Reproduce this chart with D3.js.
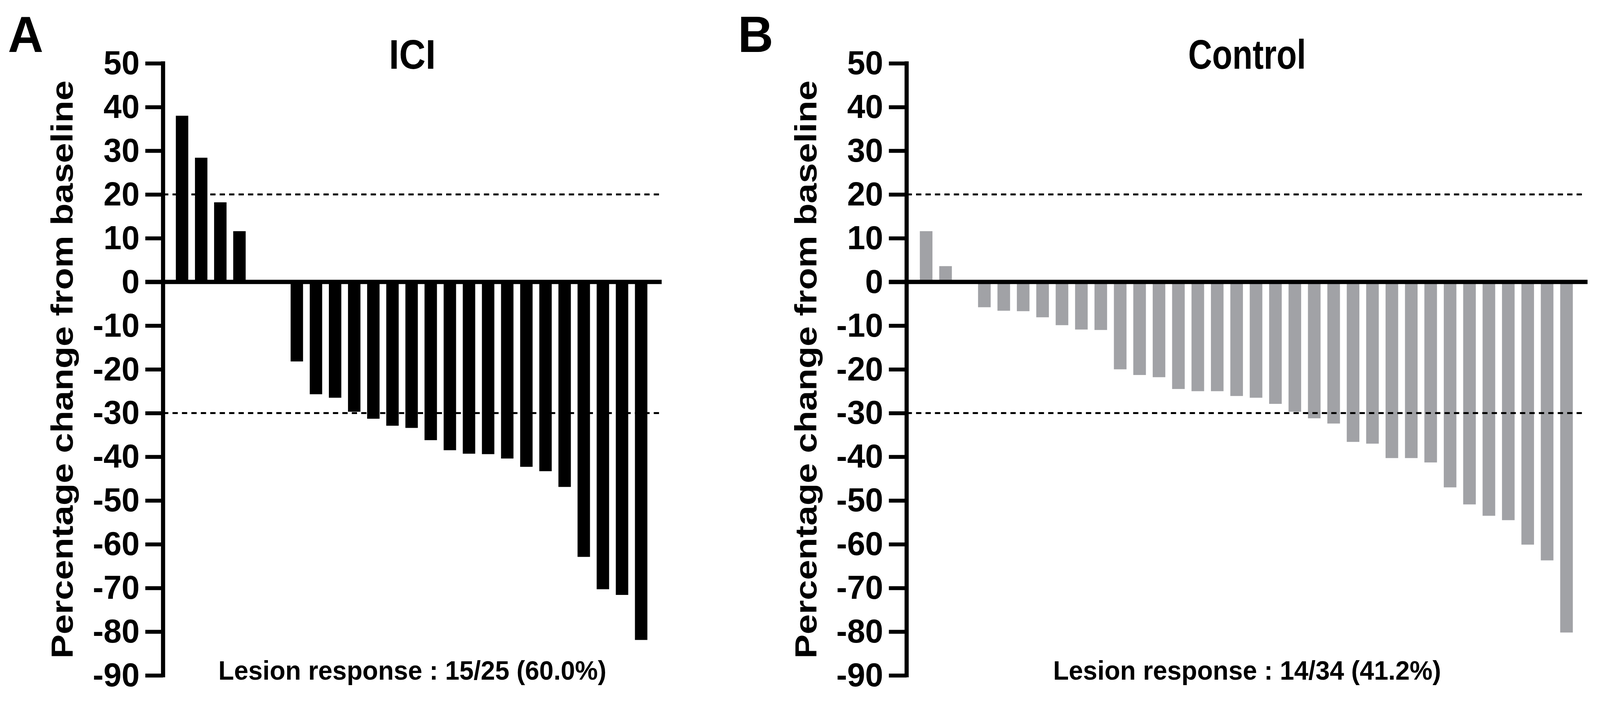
<!DOCTYPE html>
<html>
<head>
<meta charset="utf-8">
<script src="https://cdn.jsdelivr.net/npm/d3@7"></script>
<style>
  html, body { margin: 0; padding: 0; background: #fff; overflow: hidden; }
  svg { display: block; width: 100vw; height: 100vh; }
  text { font-family: "Liberation Sans", Arial, Helvetica, sans-serif; font-weight: bold; fill: #000; }
</style>
</head>
<body>
<svg id="chart" viewBox="0 0 4239 1810" preserveAspectRatio="none"></svg>
<script>
// ---- data ----
const yTicks = [50, 40, 30, 20, 10, 0, -10, -20, -30, -40, -50, -60, -70, -80, -90];
const thresholds = [20, -30];
const iciValues = [38.0, 28.4, 18.2, 11.6, 0, 0, -18.2, -25.7, -26.5, -29.7, -31.3, -32.9, -33.4, -36.2,
  -38.5, -39.3, -39.4, -40.4, -42.3, -43.3, -46.9, -62.9, -70.3, -71.6, -81.9];
const controlValues = [11.6, 3.6, 0, -5.8, -6.6, -6.7, -8.1, -9.9, -10.9, -11.0, -20.0, -21.3, -21.8,
  -24.5, -25.0, -25.0, -26.1, -26.5, -27.9, -29.7, -31.2, -32.4, -36.6, -37.0, -40.3, -40.3, -41.3,
  -47.0, -50.9, -53.5, -54.5, -60.1, -63.7, -80.2];
const panelLetters = ["A", "B"];
const panelTitles = ["ICI", "Control"];
const responseTexts = ["Lesion response : 15/25 (60.0%)", "Lesion response : 14/34 (41.2%)"];
const yAxisTitle = "Percentage change from baseline";

// ---- layout ----
const panels = [
  { values: iciValues, color: "#000000", axisX: 432, endX: 1753, x0: 457, x1: 1724, titleLen: 124, letterX: 21 },
  { values: controlValues, color: "#a1a2a6", axisX: 2402, endX: 4206, x0: 2428, x1: 4176, titleLen: 312, letterX: 1955 }
];

const svg = d3.select("#chart");
svg.append("rect").attr("width", 4239).attr("height", 1810).attr("fill", "#fff");

const y = d3.scaleLinear().domain([50, -90]).range([162, 1729]);

panels.forEach((p, pi) => {
  const g = svg.append("g");
  const x = d3.scaleBand()
    .domain(d3.range(p.values.length))
    .range([p.x0, p.x1])
    .paddingInner(0.35)
    .paddingOuter(0.175);

  // bars
  g.append("g").selectAll("rect")
    .data(p.values)
    .join("rect")
    .attr("x", (d, i) => x(i))
    .attr("width", x.bandwidth())
    .attr("y", d => y(Math.max(0, d)))
    .attr("height", d => Math.abs(y(d) - y(0)))
    .attr("fill", p.color);

  // threshold dashed lines
  g.append("g").selectAll("line")
    .data(thresholds)
    .join("line")
    .attr("x1", p.axisX)
    .attr("x2", p.endX - 4)
    .attr("y1", d => y(d))
    .attr("y2", d => y(d))
    .attr("stroke", "#000")
    .attr("stroke-width", 5)
    .attr("stroke-dasharray", "14,11");

  // zero baseline
  g.append("line")
    .attr("x1", p.axisX - 47)
    .attr("x2", p.endX)
    .attr("y1", y(0))
    .attr("y2", y(0))
    .attr("stroke", "#000")
    .attr("stroke-width", 11);

  // y axis
  const axis = d3.axisLeft(y)
    .tickValues(yTicks)
    .tickSize(47)
    .tickSizeOuter(0)
    .tickPadding(15)
    .tickFormat(d => String(d));
  const ag = g.append("g")
    .attr("transform", `translate(${p.axisX},0)`)
    .call(axis);
  ag.select(".domain").remove();
  ag.selectAll(".tick line").attr("stroke", "#000").attr("stroke-width", 10);
  ag.selectAll(".tick text")
    .style("font-family", '"Liberation Sans", Arial, sans-serif')
    .style("font-weight", "bold")
    .style("font-size", "86px")
    .attr("fill", "#000");
  ag.append("line")
    .attr("x1", 0).attr("x2", 0)
    .attr("y1", y(50) - 5).attr("y2", y(-90) + 5)
    .attr("stroke", "#000").attr("stroke-width", 11);

  // y axis title
  g.append("text")
    .attr("transform", `translate(${p.axisX - 239},${946}) rotate(-90)`)
    .attr("text-anchor", "middle")
    .attr("font-size", 80)
    .attr("textLength", 1480)
    .attr("lengthAdjust", "spacingAndGlyphs")
    .text(yAxisTitle);

  const cx = (p.axisX + p.endX) / 2;
  // panel title
  g.append("text")
    .attr("x", cx)
    .attr("y", 176)
    .attr("text-anchor", "middle")
    .attr("font-size", 105)
    .attr("textLength", p.titleLen)
    .attr("lengthAdjust", "spacingAndGlyphs")
    .text(panelTitles[pi]);

  // response text
  g.append("text")
    .attr("x", cx)
    .attr("y", 1740)
    .attr("text-anchor", "middle")
    .attr("font-size", 68)
    .text(responseTexts[pi]);

  // panel letter
  g.append("text")
    .attr("x", p.letterX)
    .attr("y", 133)
    .attr("font-size", 130)
    .text(panelLetters[pi]);
});
</script>
</body>
</html>
